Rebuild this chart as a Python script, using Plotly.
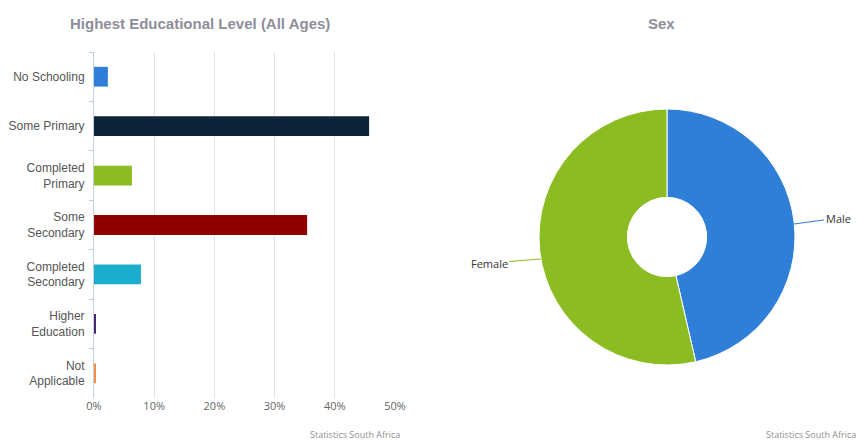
import plotly.graph_objects as go

# Highest educational level, share of population (%)
levels = ["No Schooling", "Some Primary", "Completed<br>Primary", "Some<br>Secondary",
          "Completed<br>Secondary", "Higher<br>Education", "Not<br>Applicable"]
level_share = [2.3, 45.7, 6.3, 35.4, 7.8, 0.3, 0.2]

# Sex split (%)
sexes = ["Male", "Female"]
sex_share = [46.4, 53.6]

x_ticks = [0, 10, 20, 30, 40, 50]
x_tick_labels = [f"{v}%" for v in x_ticks]

bar_colors = ["#2f7ed8", "#0d233a", "#8bbc21", "#910000", "#1aadce", "#492970", "#f28f43"]
pie_colors = ["#2f7ed8", "#8bbc21"]

W, H = 860, 441
narrow = "Liberation Sans, Arial, sans-serif"
plain = "Open Sans, DejaVu Sans, sans-serif"

fig = go.Figure()

fig.add_trace(go.Bar(
    y=levels, x=level_share, orientation="h",
    marker=dict(color=bar_colors, line=dict(width=0)),
    hoverinfo="x+y", showlegend=False,
))

fig.add_trace(go.Pie(
    labels=sexes, values=sex_share, hole=0.31, sort=False,
    direction="clockwise", rotation=0,
    marker=dict(colors=pie_colors, line=dict(color="white", width=1)),
    textinfo="none", showlegend=False,
    domain=dict(x=[539 / W, 795 / W], y=[1 - 365 / H, 1 - 109 / H]),
))

fig.update_layout(
    width=W, height=H,
    margin=dict(l=0, r=0, t=0, b=0),
    paper_bgcolor="white", plot_bgcolor="white",
    bargap=0.6,
    xaxis=dict(
        domain=[94 / W, 395 / W], range=[0, 50],
        tickmode="array", tickvals=x_ticks, ticktext=x_tick_labels,
        showgrid=True, gridcolor="#e3e3e3", gridwidth=1,
        zeroline=False, showline=False, automargin=False,
        tickfont=dict(family=plain, size=11, color="#666666"),
        fixedrange=True,
    ),
    yaxis=dict(
        domain=[1 - 398 / H, 1 - 52 / H],
        autorange="reversed", type="category",
        showline=True, linecolor="#c0d0e0", linewidth=1,
        ticks="outside", tickson="boundaries", ticklen=4, tickcolor="#c0d0e0",
        ticklabelstandoff=6,
        showgrid=False, automargin=False,
        tickfont=dict(family=narrow, size=12, color="#555555"),
        fixedrange=True,
    ),
    annotations=[
        dict(text="<b>Highest Educational Level (All Ages)</b>", x=200 / W, y=1 - 24 / H,
             xref="paper", yref="paper", xanchor="center", yanchor="middle", showarrow=False,
             font=dict(family=narrow, size=15, color="#8e8e9a")),
        dict(text="<b>Sex</b>", x=661 / W, y=1 - 24 / H,
             xref="paper", yref="paper", xanchor="center", yanchor="middle", showarrow=False,
             font=dict(family=narrow, size=15, color="#8e8e9a")),
        dict(text="Statistics South Africa", x=402 / W, y=1 - 434 / H,
             xref="paper", yref="paper", xanchor="right", yanchor="middle", showarrow=False,
             font=dict(family=plain, size=9, color="#909090")),
        dict(text="Statistics South Africa", x=858 / W, y=1 - 434 / H,
             xref="paper", yref="paper", xanchor="right", yanchor="middle", showarrow=False,
             font=dict(family=plain, size=9, color="#909090")),
        dict(text="Male", x=794 / W, y=1 - 224 / H, xref="paper", yref="paper",
             showarrow=True, arrowhead=0, arrowwidth=1, arrowcolor="#2f7ed8",
             ax=44, ay=-6, font=dict(family=plain, size=11, color="#333333")),
        dict(text="Female", x=541 / W, y=1 - 259 / H, xref="paper", yref="paper",
             showarrow=True, arrowhead=0, arrowwidth=1, arrowcolor="#8bbc21",
             ax=-52, ay=4, font=dict(family=plain, size=11, color="#333333")),
    ],
)

fig.write_html("out.html", config={"displayModeBar": False},
               post_script="document.body.style.margin = '0';")
